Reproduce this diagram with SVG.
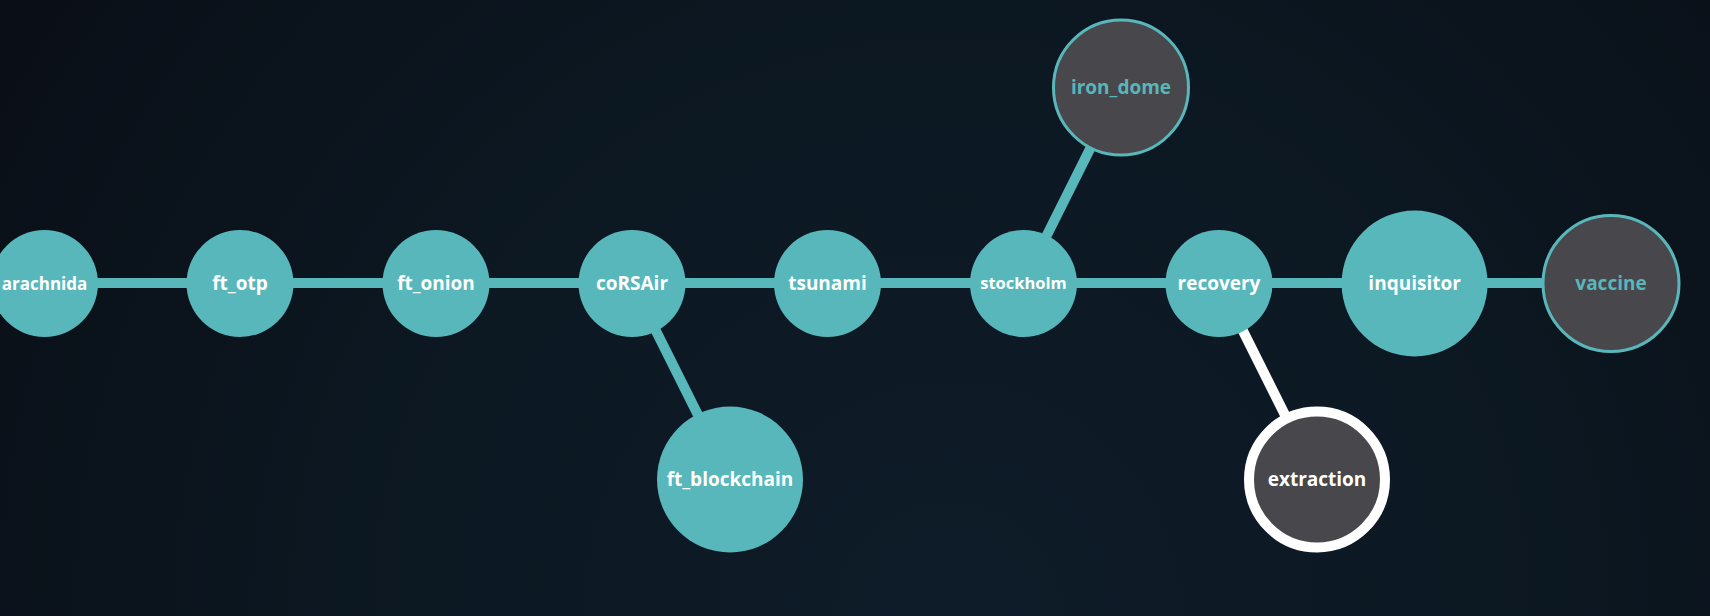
<svg xmlns="http://www.w3.org/2000/svg" width="1710" height="616" viewBox="0 0 1710 616">
<defs>
<radialGradient id="bg" gradientUnits="userSpaceOnUse" cx="950" cy="616" r="1100">
<stop offset="0" stop-color="#0e1c29"/>
<stop offset="0.5" stop-color="#0c1822"/>
<stop offset="1" stop-color="#0a0f17"/>
</radialGradient>
<style>
.edge{stroke:#58b7ba;stroke-width:10;fill:none}
.edge.w{stroke:#ffffff}
.n{fill:#58b7ba}
.d{fill:#48474c;stroke:#58b7ba;stroke-width:3}
.x{fill:#48474c;stroke:#ffffff;stroke-width:10}
text{font-family:"Open Sans","Noto Sans","Liberation Sans",sans-serif;font-weight:700;font-size:19px;fill:#ffffff;text-anchor:middle}
.t{fill:#58b7ba}
</style>
</defs>
<rect width="1710" height="616" fill="url(#bg)"/>
<g id="connectors">
<line class="edge" x1="0" y1="283" x2="1611" y2="283"/>
<line class="edge" x1="632" y1="283" x2="730" y2="479"/>
<line class="edge" x1="1023" y1="283" x2="1121" y2="87"/>
<line class="edge w" x1="1219" y1="283" x2="1317" y2="479"/>
</g>
<g id="arachnida"><circle class="n" cx="44.5" cy="283.5" r="53.5"/><text x="44.5" y="289.5" style="font-size:17px">arachnida</text></g>
<g id="ft_otp"><circle class="n" cx="240" cy="283.5" r="53.5"/><text x="240" y="290">ft_otp</text></g>
<g id="ft_onion"><circle class="n" cx="436" cy="283.5" r="53.5"/><text x="436" y="290">ft_onion</text></g>
<g id="coRSAir"><circle class="n" cx="632" cy="283.5" r="53.5"/><text x="632" y="290">coRSAir</text></g>
<g id="ft_blockchain"><circle class="n" cx="730" cy="479.5" r="73"/><text x="730" y="486">ft_blockchain</text></g>
<g id="tsunami"><circle class="n" cx="827.5" cy="283.5" r="53.5"/><text x="827.5" y="290">tsunami</text></g>
<g id="stockholm"><circle class="n" cx="1023.5" cy="283.5" r="53.5"/><text x="1023.5" y="289" style="font-size:16.5px">stockholm</text></g>
<g id="iron_dome"><circle class="d" cx="1121" cy="87.5" r="67.5"/><text class="t" x="1121" y="94">iron_dome</text></g>
<g id="recovery"><circle class="n" cx="1219" cy="283.5" r="53.5"/><text x="1219" y="290">recovery</text></g>
<g id="extraction"><circle class="x" cx="1317" cy="479.5" r="68"/><text x="1317" y="486">extraction</text></g>
<g id="inquisitor"><circle class="n" cx="1414.6" cy="283.5" r="73"/><text x="1414.6" y="290">inquisitor</text></g>
<g id="vaccine"><circle class="d" cx="1611" cy="283.5" r="68"/><text class="t" x="1611" y="290">vaccine</text></g>
</svg>
